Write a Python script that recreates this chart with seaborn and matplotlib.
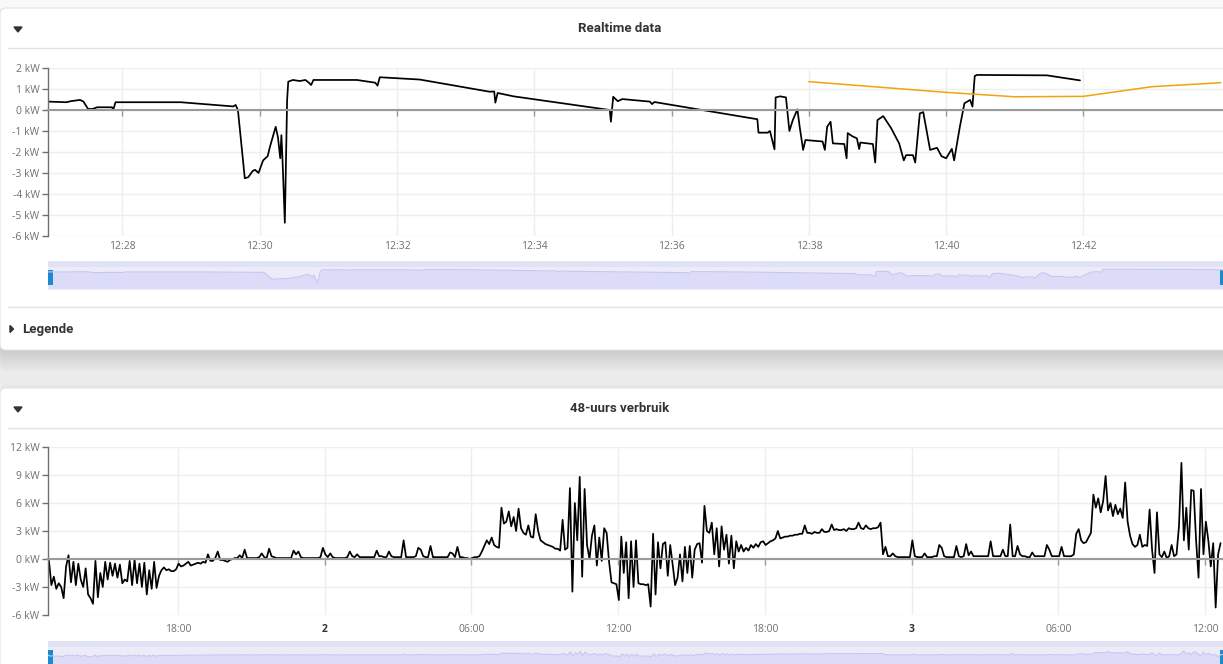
import numpy as np
import pandas as pd
import matplotlib
matplotlib.use('Agg')
import matplotlib.pyplot as plt
import matplotlib.transforms as mtransforms
from matplotlib.patches import FancyBboxPatch, Rectangle, Polygon
from matplotlib.lines import Line2D
import seaborn as sns

# ---------------- data: realtime chart ----------------
rt_times = [
    "12:26:55", "12:27:11", "12:27:15", "12:27:23", "12:27:26", "12:27:30", "12:27:34", "12:27:38",
    "12:27:51", "12:27:52", "12:27:54", "12:28:51", "12:29:37", "12:29:39", "12:29:41", "12:29:47",
    "12:29:50", "12:29:54", "12:29:56", "12:29:59", "12:30:03", "12:30:07", "12:30:09", "12:30:14",
    "12:30:16", "12:30:18", "12:30:19", "12:30:20", "12:30:22", "12:30:24", "12:30:25", "12:30:29",
    "12:30:35", "12:30:40", "12:30:43", "12:30:45", "12:30:47", "12:31:25", "12:31:41", "12:31:43",
    "12:31:45", "12:32:20", "12:33:21", "12:33:25", "12:33:26", "12:33:28", "12:33:42", "12:35:06",
    "12:35:07", "12:35:09", "12:35:13", "12:35:17", "12:35:41", "12:35:43", "12:35:45", "12:37:15",
    "12:37:16", "12:37:24", "12:37:26", "12:37:30", "12:37:31", "12:37:35", "12:37:40", "12:37:43",
    "12:37:46", "12:37:50", "12:37:52", "12:37:55", "12:37:57", "12:38:12", "12:38:14", "12:38:16",
    "12:38:19", "12:38:21", "12:38:31", "12:38:33", "12:38:34", "12:38:38", "12:38:42", "12:38:44",
    "12:38:45", "12:38:56", "12:38:58", "12:39:00", "12:39:05", "12:39:12", "12:39:19", "12:39:23",
    "12:39:25", "12:39:31", "12:39:33", "12:39:37", "12:39:40", "12:39:46", "12:39:52", "12:39:56",
    "12:40:00", "12:40:05", "12:40:07", "12:40:12", "12:40:16", "12:40:21", "12:40:23", "12:40:25",
    "12:40:27", "12:41:28", "12:41:57",
]
rt_kw = [
    0.40, 0.37, 0.42, 0.48, 0.40, 0.05, 0.05, 0.13,
    0.13, 0.00, 0.37, 0.37, 0.17, 0.24, 0.00, -3.25,
    -3.20, -2.90, -2.85, -3.00, -2.40, -2.20, -1.75, -0.80,
    -1.30, -2.30, -1.20, -2.40, -5.37, 0.48, 1.35, 1.43,
    1.38, 1.43, 1.30, 1.19, 1.43, 1.43, 1.30, 1.16,
    1.56, 1.45, 0.87, 0.88, 0.35, 0.81, 0.65, 0.00,
    -0.56, 0.63, 0.42, 0.52, 0.40, 0.28, 0.38, -0.44,
    -1.08, -1.08, -1.00, -1.87, 0.60, 0.65, 0.60, -1.00,
    -0.48, 0.03, -0.80, -1.90, -1.43, -1.50, -1.90, -0.80,
    -0.56, -1.59, -1.62, -2.30, -1.10, -1.25, -1.35, -1.86,
    -1.55, -1.62, -2.50, -0.48, -0.29, -0.87, -1.60, -2.40,
    -2.15, -2.15, -2.50, -0.16, -0.10, -1.90, -1.80, -2.20,
    -2.30, -1.85, -2.40, -0.80, 0.32, 0.48, 0.16, 1.62,
    1.67, 1.65, 1.41,
]
avg_times = ["12:38:00", "12:40:00", "12:41:00", "12:42:00", "12:43:00", "12:44:00"]
avg_kw = [1.35, 0.84, 0.63, 0.65, 1.11, 1.30]

rt_ticks = ["12:28", "12:30", "12:32", "12:34", "12:36", "12:38", "12:40", "12:42"]
rt_yticks = [-6, -5, -4, -3, -2, -1, 0, 1, 2]

# ---------------- data: 48 hour chart (6 minute samples) ----------------
kw_day1_afternoon = [
    -0.2, -2.8, -1.9, -3.2, -2.6, -3.0, -4.2, -0.8, 0.4, -2.5,
    -0.3, -2.8, -0.5, -2.2, -3.0, -1.0, -3.8, -4.2, -4.8, -0.2,
    -4.1, -1.5, -3.0, -0.3, -2.2, -0.4, -1.8, -0.5, -2.0, -0.6,
    -2.6, -2.2, -2.4, -0.2, -2.8, -0.1, -2.6, -0.5, -3.0, -0.4,
    -3.8, -1.2, -3.2, -0.3, -3.1, -1.8, -1.2, -0.9, -1.2, -1.1,
    -1.3, -1.3, -1.1, -0.5, -0.8, -0.7, -0.5, -0.3, -0.7, -0.6,
]
kw_day1_evening = [
    -0.5, -0.4, -0.5, -0.3, -0.4, 0.5, -0.2, -0.2, 0.1, 0.8,
    -0.1, -0.1, -0.2, -0.3, -0.1, 0.0, 0.1, 0.1, 0.4, 0.1,
    1.0, 0.1, 0.1, 0.1, 0.1, 0.1, 0.2, 0.6, 0.2, 0.1,
    1.1, 0.3, 0.2, 0.1, 0.1, 0.1, 0.1, 0.1, 0.1, 0.1,
    0.9, 0.5, 0.8, 0.2, 0.1, 0.1, 0.1, 0.1, 0.1, 0.1,
    0.1, 0.2, 1.2, 0.5, 0.2, 0.6, 0.2, 0.1, 0.1, 0.1,
]
kw_day2_night = [
    0.1, 0.1, 0.2, 0.8, 0.3, 0.2, 0.5, 0.2, 0.2, 0.2,
    0.2, 0.2, 0.2, 0.2, 0.9, 0.3, 0.3, 0.2, 0.2, 0.8,
    0.3, 0.2, 0.2, 0.2, 0.2, 2.0, 0.2, 0.2, 0.2, 0.2,
    0.3, 1.2, 1.0, 0.3, 0.2, 0.2, 1.4, 0.2, 0.2, 0.2,
    0.2, 0.2, 0.2, 0.2, 0.7, 0.6, 0.2, 1.3, 0.2, 0.2,
    0.1, 0.1, 0.0, 0.1, 0.2, 0.2, 0.3, 0.8, 1.4, 2.0,
]
kw_day2_morning = [
    1.6, 2.3, 1.5, 1.3, 1.2, 5.5, 3.8, 4.0, 5.1, 3.5,
    4.5, 3.0, 5.4, 3.3, 2.8, 2.6, 3.6, 2.4, 2.3, 4.8,
    3.0, 2.0, 1.8, 1.6, 1.5, 1.4, 1.3, 1.1, 1.1, 0.9,
    4.2, 1.0, 1.2, 7.6, -3.5, 6.0, 2.0, 8.8, -1.9, 7.5,
    1.5, 0.0, 2.5, 3.6, -0.7, 2.3, -0.2, 3.3, 2.8, -0.3,
    -2.5, -2.6, -2.7, -4.4, 2.4, -1.5, 1.8, -4.2, 1.9, -3.0,
]
kw_day2_afternoon = [
    2.0, -2.6, -2.7, -2.7, -2.8, -2.7, -5.1, 2.7, -3.8, 1.8,
    -1.0, 1.6, 1.8, -1.8, 1.5, -0.6, -2.8, -2.0, 0.5, -2.4,
    1.3, -1.5, 1.4, -2.0, 1.0, 1.6, 1.7, -0.4, 5.7, 3.0,
    2.8, 3.9, 0.5, 3.3, -0.8, 3.5, 1.0, 2.6, -0.5, 2.5,
    -1.0, 1.9, 0.8, 1.5, 0.8, 1.2, 0.9, 1.5, 1.2, 1.6,
    1.3, 1.8, 1.9, 1.5, 1.7, 1.9, 2.0, 2.2, 3.0, 2.2,
]
kw_day2_evening = [
    2.3, 2.4, 2.4, 2.5, 2.5, 2.6, 2.6, 2.7, 2.7, 3.6,
    2.8, 2.8, 2.7, 2.9, 2.8, 2.8, 3.2, 2.9, 2.9, 3.0,
    3.7, 3.1, 3.2, 3.1, 3.1, 3.2, 3.0, 3.3, 3.2, 3.2,
    3.3, 3.9, 3.3, 3.2, 3.6, 3.3, 3.2, 3.3, 3.3, 3.4,
    3.9, 0.5, 1.3, 0.3, 0.3, 0.6, 0.3, 0.2, 0.2, 0.2,
    0.2, 0.2, 0.2, 2.0, 0.3, 0.2, 0.2, 0.2, 0.6, 0.2,
]
kw_day3_night = [
    0.2, 0.2, 0.3, 0.3, 1.5, 1.2, 0.3, 0.2, 0.2, 0.2,
    0.2, 1.4, 0.3, 0.2, 0.3, 1.6, 0.4, 0.8, 0.3, 0.3,
    0.3, 0.3, 0.3, 0.3, 0.3, 1.9, 0.3, 0.3, 0.3, 0.3,
    1.0, 0.3, 0.3, 3.7, 0.3, 0.3, 1.4, 0.5, 0.3, 0.3,
    0.2, 0.2, 0.7, 0.3, 0.3, 0.3, 0.3, 0.3, 1.5, 1.0,
    0.3, 0.3, 0.3, 0.3, 1.3, 0.3, 0.3, 0.3, 0.3, 0.5,
]
kw_day3_morning = [
    2.7, 3.2, 2.0, 1.7, 1.8, 2.3, 2.8, 6.9, 5.5, 6.5,
    5.0, 6.2, 8.9, 5.2, 6.0, 4.6, 5.8, 4.8, 5.4, 4.4,
    8.2, 4.0, 2.5, 1.6, 1.3, 1.5, 2.6, 1.3, 1.5, 1.4,
    5.3, 1.0, -1.5, 5.0, 0.5, 0.2, 0.8, 0.1, 0.3, 1.5,
    0.3, 0.5, 3.5, 10.3, 2.0, 5.5, 1.0, 7.4, 7.3, 2.0,
    -2.0, 7.5, 0.5, 4.0, 2.0, -0.8, 1.7, -5.2, 0.5, 1.7,
]
hist_start = "2023-06-01 12:44"
hist_step = "6min"

hist_ticks = ["2023-06-01 18:00", "2023-06-02 00:00", "2023-06-02 06:00", "2023-06-02 12:00",
              "2023-06-02 18:00", "2023-06-03 00:00", "2023-06-03 06:00", "2023-06-03 12:00"]
hist_tick_labels = ["18:00", "2", "06:00", "12:00", "18:00", "3", "06:00", "12:00"]
day_labels = ["2", "3"]
hist_yticks = [-6, -3, 0, 3, 6, 9, 12]

# ---------------- build frames ----------------
day = "2023-06-01 "
rt = pd.DataFrame({"time": pd.to_datetime([day + t for t in rt_times]), "kw": rt_kw})
avg = pd.DataFrame({"time": pd.to_datetime([day + t for t in avg_times]), "kw": avg_kw})
hist_kw = (kw_day1_afternoon + kw_day1_evening + kw_day2_night + kw_day2_morning
           + kw_day2_afternoon + kw_day2_evening + kw_day3_night + kw_day3_morning)
hist = pd.DataFrame({"time": pd.date_range(hist_start, periods=len(hist_kw), freq=hist_step),
                     "kw": hist_kw})

# ---------------- figure / layout ----------------
W, H = 1223, 664
sns.set_theme(style="white")
plt.rcParams['font.family'] = ['Open Sans', 'DejaVu Sans']

fig = plt.figure(figsize=(W / 100, H / 100), dpi=100, facecolor='#ececec')
px = mtransforms.Affine2D().scale(1 / W, -1 / H).translate(0, 1) + fig.transFigure


def box(x0, y0, x1, y1):
    return [x0 / W, 1 - y1 / H, (x1 - x0) / W, (y1 - y0) / H]


# page background strips and cards
fig.add_artist(Rectangle((0, 0), W, 9, transform=px, facecolor='#f9f9f9', edgecolor='none', zorder=-20))
for k in range(1, 12):
    fig.add_artist(FancyBboxPatch((0, 8 + k), W + 20, 342 + k * 1.0,
                                  boxstyle="round,pad=0,rounding_size=6", transform=px,
                                  facecolor='black', edgecolor='none', alpha=0.010, zorder=-15))
fig.add_artist(FancyBboxPatch((0, 8), W + 20, 342, boxstyle="round,pad=0,rounding_size=6",
                              transform=px, facecolor='white', edgecolor='#e4e4e4', lw=0.8, zorder=-10))
for k in range(1, 5):
    fig.add_artist(FancyBboxPatch((0, 388 - k), W + 20, 300, boxstyle="round,pad=0,rounding_size=6",
                                  transform=px, facecolor='black', edgecolor='none', alpha=0.008, zorder=-15))
fig.add_artist(FancyBboxPatch((0, 388), W + 20, 300, boxstyle="round,pad=0,rounding_size=6",
                              transform=px, facecolor='white', edgecolor='#e4e4e4', lw=0.8, zorder=-10))

for yy in [48, 307, 428]:
    fig.add_artist(Line2D([8, W], [yy, yy], transform=px, color='#e3e3e3', lw=1, zorder=-5))

head_font = ['Roboto', 'DejaVu Sans']
fig.text(620, 28, "Realtime data", transform=px, ha='center', va='center', fontsize=9.5,
         fontweight='bold', color='#333333', family=head_font)
fig.text(620, 409, "48-uurs verbruik", transform=px, ha='center', va='center', fontsize=9.5,
         fontweight='bold', color='#333333', family=head_font)
fig.text(22, 329, "Legende", transform=px, ha='left', va='center', fontsize=9.5,
         fontweight='bold', color='#333333', family=head_font)
fig.add_artist(Polygon([(14, 27), (22, 27), (18, 32)], transform=px, color='#333333'))
fig.add_artist(Polygon([(14, 407), (22, 407), (18, 412)], transform=px, color='#333333'))
fig.add_artist(Polygon([(10, 325.5), (10, 332.5), (13.5, 329)], transform=px, color='#333333'))

AXIS_GREY = '#6e7079'
GRID = '#eeeeee'
ZERO = '#9a9a9a'


def style_axes(ax, yticks, label_pad):
    ax.set_facecolor('none')
    ax.set_axisbelow(True)
    ax.grid(True, color=GRID, lw=1)
    for s in ['top', 'right']:
        ax.spines[s].set_visible(False)
    ax.spines['left'].set_color(AXIS_GREY)
    ax.spines['left'].set_linewidth(1)
    ax.spines['bottom'].set_position(('data', 0))
    ax.spines['bottom'].set_color(ZERO)
    ax.spines['bottom'].set_linewidth(1.5)
    ax.set_yticks(yticks)
    ax.set_yticklabels([f"{v} kW" for v in yticks])
    ax.tick_params(axis='y', left=True, length=4, width=1, color=AXIS_GREY, pad=2,
                   labelsize=7.5, labelcolor=AXIS_GREY)
    ax.tick_params(axis='x', bottom=True, length=4, width=1, color=ZERO, pad=label_pad,
                   labelsize=7.5, labelcolor=AXIS_GREY)
    ax.set_xlabel("")
    ax.set_ylabel("")


# ---------------- realtime chart ----------------
ax1 = fig.add_axes(box(48, 68, W, 236))
sns.lineplot(data=rt, x="time", y="kw", ax=ax1, color='black', linewidth=1.25,
             estimator=None, sort=False)
sns.lineplot(data=avg, x="time", y="kw", ax=ax1, color='#f2a20c', linewidth=1.1,
             estimator=None, sort=False)
ax1.set_ylim(-6, 2)
ax1.set_xlim(pd.Timestamp(day + "12:26:55"), pd.Timestamp(day + "12:44:02"))
ax1.set_xticks(pd.to_datetime([day + t for t in rt_ticks]))
ax1.set_xticklabels(rt_ticks)
style_axes(ax1, rt_yticks, 90)

# ---------------- 48h chart ----------------
ax2 = fig.add_axes(box(48, 447, W, 615))
sns.lineplot(data=hist, x="time", y="kw", ax=ax2, color='black', linewidth=1.25,
             estimator=None, sort=False)
ax2.set_ylim(-6, 12)
ax2.set_xlim(pd.Timestamp("2023-06-01 12:41:40"), pd.Timestamp("2023-06-03 12:44:00"))
ax2.set_xticks(pd.to_datetime(hist_ticks))
ax2.set_xticklabels(hist_tick_labels)
style_axes(ax2, hist_yticks, 43)
for lab in ax2.get_xticklabels():
    if lab.get_text() in day_labels:
        lab.set_fontweight('bold')
        lab.set_color('#333333')


# ---------------- data zoom sliders (shadow spans the series' own range) ----------------
def slider(rect, df, ylim):
    ax = fig.add_axes(rect)
    ax.set_facecolor('#eeebf9')
    ax.set_xlim(df["time"].min(), df["time"].max())
    ax.set_ylim(*ylim)
    ax.fill_between(df["time"], df["kw"], ylim[0], color='#dcdcf8', lw=0)
    ax.plot(df["time"], df["kw"], color='#c3c8f0', lw=0.8)
    ax.add_patch(Rectangle((0, 0.786), 1, 0.214, transform=ax.transAxes,
                           facecolor='#dfe3f3', edgecolor='none'))
    ax.add_patch(Rectangle((0, 0.14), 0.0045, 0.54, transform=ax.transAxes,
                           facecolor='#1d8ad0', edgecolor='none'))
    ax.add_patch(Rectangle((0.9975, 0.14), 0.0045, 0.54, transform=ax.transAxes,
                           facecolor='#1d8ad0', edgecolor='none', clip_on=False))
    ax.set_xticks([])
    ax.set_yticks([])
    for s in ax.spines.values():
        s.set_visible(False)
    return ax


slider(box(48, 261, W, 289), rt, (-8.1, 5.8))
slider(box(48, 641, W, 669), hist, (-35, 35))

fig.savefig("out.png", dpi=100, facecolor=fig.get_facecolor())
